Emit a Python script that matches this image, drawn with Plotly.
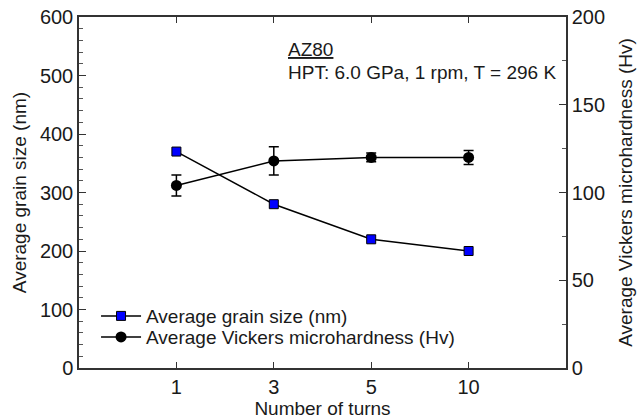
import plotly.graph_objects as go

# Number of HPT turns (evenly spaced categories)
turns = ["1", "3", "5", "10"]

# Average grain size (nm), left axis
grain_size = [370, 280, 220, 200]

# Average Vickers microhardness (Hv), right axis, with error bars
hardness = [104, 118, 120, 120]
hardness_err = [6, 8, 2.5, 4]

FONT = "Liberation Sans, Arial, sans-serif"
TXT = "#1a1a1a"

fig = go.Figure()

fig.add_trace(go.Scatter(
    x=turns, y=grain_size,
    name="Average grain size (nm)",
    mode="lines+markers",
    line=dict(color="black", width=1.5),
    marker=dict(symbol="square", size=9, color="#0000ff",
                line=dict(color="black", width=1)),
    yaxis="y",
    legend="legend",
))

fig.add_trace(go.Scatter(
    x=turns, y=hardness,
    name="Average Vickers microhardness (Hv)",
    mode="lines+markers",
    line=dict(color="black", width=1.5),
    marker=dict(symbol="circle", size=11, color="black"),
    error_y=dict(type="data", array=hardness_err, visible=True,
                 color="black", thickness=1.5, width=5),
    yaxis="y2",
    legend="legend2",
))

legend_style = dict(
    xanchor="left", yanchor="middle",
    bgcolor="rgba(0,0,0,0)",
    font=dict(size=19, family=FONT, color=TXT),
    itemwidth=40,
)

fig.update_layout(
    width=637, height=420,
    margin=dict(l=79, r=71, t=17, b=52, autoexpand=False),
    paper_bgcolor="white",
    plot_bgcolor="white",
    font=dict(family=FONT, size=20, color=TXT),
    showlegend=True,
    legend=dict(x=0.035, y=0.148, **legend_style),
    legend2=dict(x=0.035, y=0.088, **legend_style),
    xaxis=dict(
        type="category",
        range=[-1, 4],
        automargin=False,
        title=dict(text="Number of turns", font=dict(size=19), standoff=1),
        showline=True, linecolor="#333333", linewidth=1.5,
        mirror="ticks",
        ticks="inside", ticklen=6, tickcolor="#333333", tickwidth=1,
        showgrid=False, zeroline=False,
        tickfont=dict(size=20),
    ),
    yaxis=dict(
        range=[0, 600],
        dtick=100,
        automargin=False,
        title=dict(text="Average grain size (nm)", font=dict(size=19), standoff=8),
        showline=True, linecolor="#333333", linewidth=1.5,
        ticks="inside", ticklen=7, tickcolor="#333333", tickwidth=1,
        minor=dict(dtick=20, ticks="inside", ticklen=4, tickcolor="#555555", tickwidth=1),
        showgrid=False, zeroline=False,
        tickfont=dict(size=20),
    ),
    yaxis2=dict(
        range=[0, 200],
        dtick=50,
        automargin=False,
        overlaying="y", side="right",
        title=dict(text="Average Vickers microhardness (Hv)", font=dict(size=19), standoff=15),
        showline=True, linecolor="#333333", linewidth=1.5,
        ticks="inside", ticklen=7, tickcolor="#333333", tickwidth=1,
        minor=dict(dtick=25, ticks="inside", ticklen=4, tickcolor="#555555", tickwidth=1),
        showgrid=False, zeroline=False,
        tickfont=dict(size=20),
    ),
    annotations=[
        dict(text="<u>AZ80</u>", xref="paper", yref="paper",
             x=0.425, y=0.906, xanchor="left", yanchor="middle",
             showarrow=False, font=dict(size=19, family=FONT, color=TXT)),
        dict(text="HPT: 6.0 GPa, 1 rpm, T = 296 K", xref="paper", yref="paper",
             x=0.425, y=0.843, xanchor="left", yanchor="middle",
             showarrow=False, font=dict(size=19, family=FONT, color=TXT)),
    ],
)

fig.write_html("out.html")
